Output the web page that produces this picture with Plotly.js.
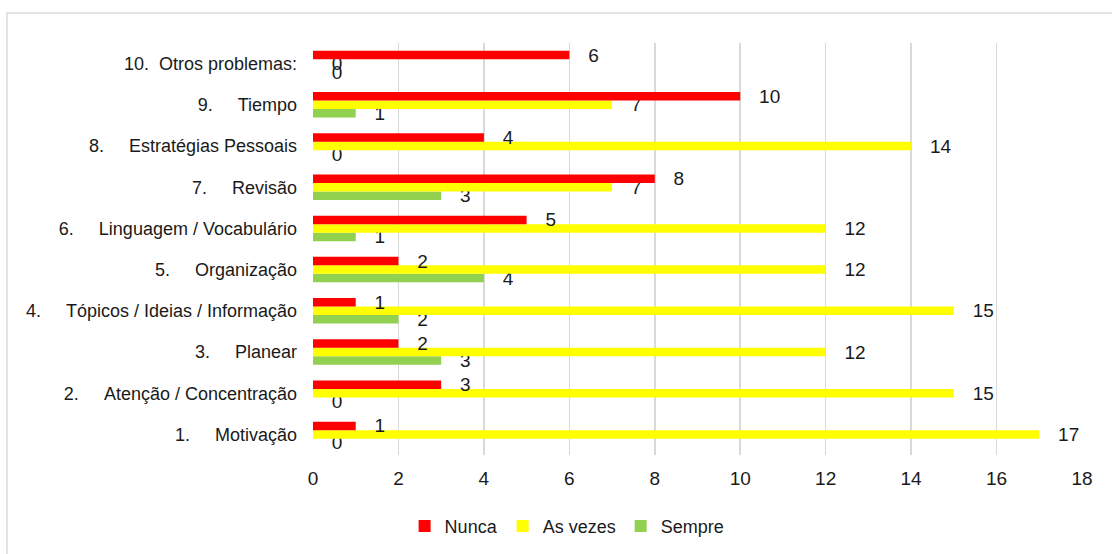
<!DOCTYPE html>
<html>
<head>
<meta charset="utf-8">
<script src="https://cdn.plot.ly/plotly-3.0.1.min.js"></script>
<style>
  html, body { margin: 0; padding: 0; background: #ffffff; }
  #chart { width: 1112px; height: 554px; }
</style>
</head>
<body>
<div id="chart"></div>
<script>
// Category labels (bottom to top), numbered list style with padded gap
const categories = [
  "1.\u00a0\u00a0\u00a0\u00a0\u00a0Motivação",
  "2.\u00a0\u00a0\u00a0\u00a0\u00a0Atenção / Concentração",
  "3.\u00a0\u00a0\u00a0\u00a0\u00a0Planear",
  "4.\u00a0\u00a0\u00a0\u00a0\u00a0Tópicos / Ideias / Informação",
  "5.\u00a0\u00a0\u00a0\u00a0\u00a0Organização",
  "6.\u00a0\u00a0\u00a0\u00a0\u00a0Linguagem / Vocabulário",
  "7.\u00a0\u00a0\u00a0\u00a0\u00a0Revisão",
  "8.\u00a0\u00a0\u00a0\u00a0\u00a0Estratégias Pessoais",
  "9.\u00a0\u00a0\u00a0\u00a0\u00a0Tiempo",
  "10.\u00a0\u00a0Otros problemas:"
];

const nunca   = [1, 3, 2, 1, 2, 5, 8, 4, 10, 6];
const asVezes = [17, 15, 12, 15, 12, 12, 7, 14, 7, 0];
const sempre  = [0, 0, 3, 2, 4, 1, 3, 0, 1, 0];

const seriesNames = ["Nunca", "As vezes", "Sempre"];
const seriesColors = ["#ff0000", "#ffff00", "#92d050"];

const xTicks = [0, 2, 4, 6, 8, 10, 12, 14, 16, 18];

const FONT = "'Liberation Sans', Arial, sans-serif";
const FS = 18;

function barTrace(name, values, color) {
  return {
    type: "bar",
    orientation: "h",
    name: name,
    y: categories,
    x: values,
    marker: { color: color, line: { width: 0 } },
    text: values.map(v => "\u00a0\u00a0\u00a0" + v),
    textposition: "outside",
    constraintext: "none",
    cliponaxis: false,
    textfont: { family: FONT, size: 19, color: "#1a1a1a" },
    hoverinfo: "x+name"
  };
}

// Trace order bottom-up inside each group: Sempre, As vezes, Nunca
const data = [
  barTrace(seriesNames[2], sempre, seriesColors[2]),
  barTrace(seriesNames[1], asVezes, seriesColors[1]),
  barTrace(seriesNames[0], nunca, seriesColors[0])
];

const layout = {
  width: 1112,
  height: 554,
  margin: { l: 313, r: 30, t: 43, b: 99 },
  paper_bgcolor: "#ffffff",
  plot_bgcolor: "#ffffff",
  barmode: "group",
  bargap: 0.38,
  bargroupgap: 0,
  font: { family: FONT, size: FS, color: "#1a1a1a" },
  xaxis: {
    range: [0, 18],
    tickvals: xTicks,
    ticktext: xTicks.map(String),
    showgrid: true,
    gridcolor: "#d9d9d9",
    gridwidth: 1.5,
    zeroline: false,
    showline: false,
    ticks: "",
    ticklabelstandoff: 10,
    tickfont: { family: FONT, size: 19, color: "#1a1a1a" },
    fixedrange: true
  },
  yaxis: {
    type: "category",
    categoryorder: "array",
    categoryarray: categories,
    showgrid: false,
    zeroline: false,
    showline: false,
    ticks: "",
    ticklabelstandoff: 15,
    tickfont: { family: FONT, size: FS, color: "#1a1a1a" },
    fixedrange: true
  },
  showlegend: true,
  legend: {
    orientation: "h",
    traceorder: "reversed",
    xref: "container",
    yref: "container",
    x: 0.51,
    xanchor: "center",
    y: 0.05,
    yanchor: "middle",
    font: { family: FONT, size: FS, color: "#1a1a1a" },
    itemwidth: 30,
    tracegroupgap: 0
  },
  shapes: [
    {
      type: "rect",
      xref: "paper",
      yref: "paper",
      x0: -0.398,
      x1: 1.2,
      y0: -0.4,
      y1: 1.0726,
      line: { color: "#d9d9d9", width: 1.5 },
      fillcolor: "rgba(0,0,0,0)",
      layer: "below"
    }
  ]
};

Plotly.newPlot("chart", data, layout, { displayModeBar: false, staticPlot: true });
</script>
</body>
</html>
